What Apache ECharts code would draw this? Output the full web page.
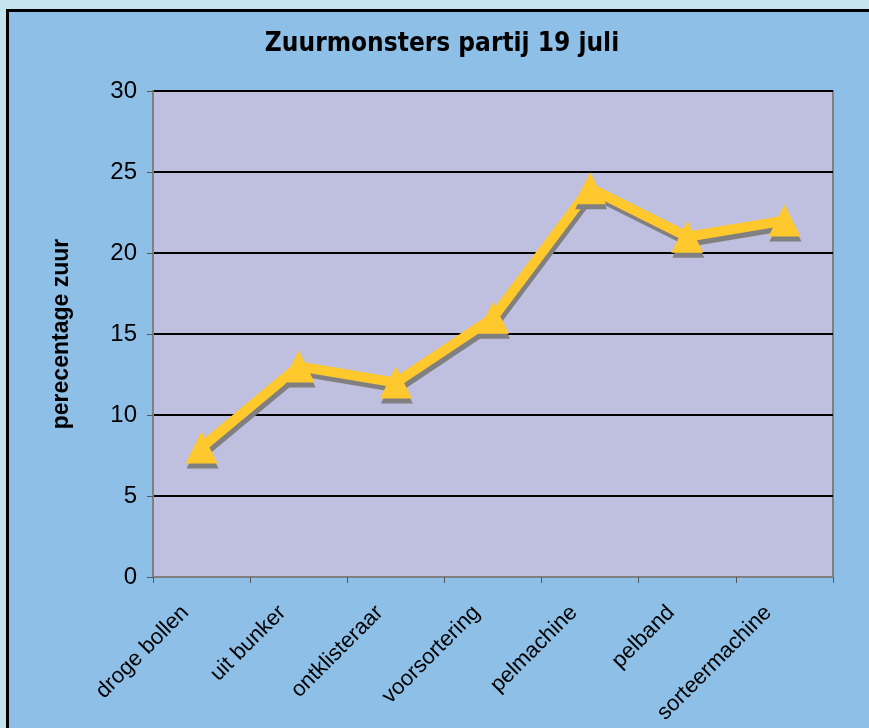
<!DOCTYPE html>
<html>
<head>
<meta charset="utf-8">
<script src="https://cdn.jsdelivr.net/npm/echarts@6/dist/echarts.min.js"></script>
<style>
  html, body { margin: 0; padding: 0; background: #c3e3ef; overflow: hidden; }
  #chart {
    position: absolute; left: 6px; top: 9px;
    width: 866px; height: 730px;
    border: 3px solid #000; background: #8ebfe6;
  }
</style>
</head>
<body>
<div id="chart"></div>
<script>
// data
var stations = ['droge bollen', 'uit bunker', 'ontklisteraar', 'voorsortering', 'pelmachine', 'pelband', 'sorteermachine'];
var zuur = [8, 13, 12, 16, 24, 21, 22];

var chart = echarts.init(document.getElementById('chart'));
var option = {
  animation: false,
  title: {
    text: 'Zuurmonsters partij 19 juli',
    left: 'center',
    top: 14,
    textStyle: { fontFamily: 'DejaVu Sans Condensed', fontWeight: 'bold', fontSize: 26, color: '#000' }
  },
  grid: {
    left: 144, top: 79, width: 680, height: 486,
    show: true, backgroundColor: '#bfbfdf', borderColor: '#808080', borderWidth: 2
  },
  xAxis: {
    type: 'category',
    data: stations,
    boundaryGap: true,
    axisLine: { lineStyle: { color: '#808080', width: 2 } },
    axisTick: { show: true, length: 6, alignWithLabel: false, lineStyle: { color: '#555', width: 1 } },
    axisLabel: {
      rotate: 45, margin: 16, interval: 0, padding: [0, 23, 0, 0],
      fontFamily: 'Liberation Sans', fontSize: 22, color: '#000'
    }
  },
  yAxis: {
    type: 'value',
    min: 0, max: 30, interval: 5,
    name: 'perecentage zuur',
    nameLocation: 'middle',
    nameGap: 80,
    nameTextStyle: { fontFamily: 'Liberation Sans', fontWeight: 'bold', fontSize: 23, color: '#000' },
    axisLine: { show: true, lineStyle: { color: '#808080', width: 2 } },
    axisTick: { show: true, length: 6, lineStyle: { color: '#555', width: 1 } },
    axisLabel: { margin: 16, fontFamily: 'Liberation Sans', fontSize: 24, color: '#000' },
    splitLine: { lineStyle: { color: '#000', width: 2 } }
  },
  series: [{
    type: 'line',
    data: zuur,
    symbol: 'triangle',
    symbolSize: 32,
    lineStyle: {
      color: '#ffc82c', width: 10,
      shadowColor: '#808080', shadowBlur: 0, shadowOffsetX: 2, shadowOffsetY: 5
    },
    itemStyle: {
      color: '#ffc82c', borderWidth: 0,
      shadowColor: '#808080', shadowBlur: 0, shadowOffsetX: 1, shadowOffsetY: 5
    }
  }]
};
chart.setOption(option);
</script>
</body>
</html>
